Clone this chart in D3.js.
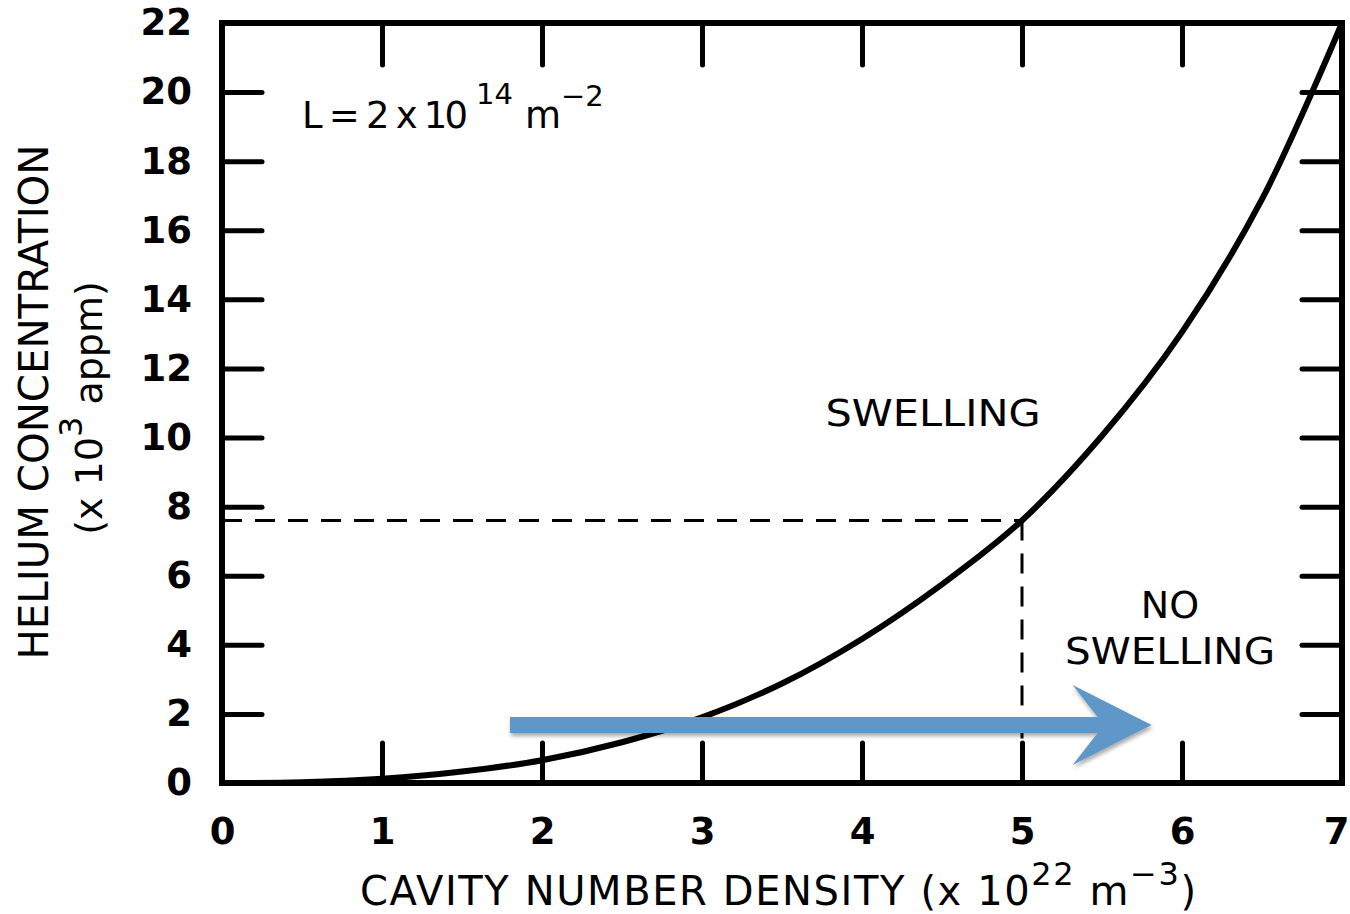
<!DOCTYPE html>
<html>
<head>
<meta charset="utf-8">
<script src="https://cdn.jsdelivr.net/npm/d3@7"></script>
<style>
  html, body { margin: 0; padding: 0; background: #fff; }
  svg { display: block; }
  text { font-family: "DejaVu Sans", "Liberation Sans", sans-serif; fill: #000; }
</style>
</head>
<body>
<svg id="chart" width="1350" height="914"></svg>
<script>
// Cavity number density (x10^22 m^-3) vs helium concentration (x10^3 appm)
const densityValues = [0, 0.5, 1, 1.5, 2, 2.5, 3, 3.5, 4, 4.5, 5, 5.5, 6, 6.5, 7];
const heliumValues  = [0, 0.02, 0.12, 0.33, 0.66, 1.18, 1.9, 2.88, 4.17, 5.75, 7.6, 10.05, 13.05, 16.9, 22];

// Critical point marked by the dashed guides
const criticalDensity = 5;
const criticalHelium = 7.6;

// Arrow annotation (data units)
const arrowStart = 1.8;
const arrowEnd = 5.81;
const arrowLevel = 1.68;

const xTicks = [0, 1, 2, 3, 4, 5, 6, 7];
const yTicks = [0, 2, 4, 6, 8, 10, 12, 14, 16, 18, 20, 22];
const innerXTicks = [1, 2, 3, 4, 5, 6];
const innerYTicks = [2, 4, 6, 8, 10, 12, 14, 16, 18, 20];

const svg = d3.select("#chart");
const x = d3.scaleLinear().domain([0, 7]).range([222, 1342]);
const y = d3.scaleLinear().domain([0, 22]).range([783, 23]);

const defs = svg.append("defs");
const shadow = defs.append("filter").attr("id", "arrowShadow")
  .attr("x", "-5%").attr("y", "-30%").attr("width", "110%").attr("height", "180%");
shadow.append("feDropShadow").attr("dx", 1).attr("dy", 3).attr("stdDeviation", 2)
  .attr("flood-color", "#000").attr("flood-opacity", 0.35);

// Tick marks pointing inward on all four sides
function styleAxis(g) {
  g.select(".domain").remove();
  g.selectAll(".tick line").attr("stroke", "#000").attr("stroke-width", 5).attr("stroke-linecap", "round");
  g.selectAll(".tick text").attr("font-size", 37).attr("font-weight", "bold").attr("fill", "#000");
}

svg.append("g").attr("transform", `translate(${x(0)},0)`)
  .call(d3.axisLeft(y).tickValues(yTicks).tickSizeInner(-40).tickSizeOuter(0).tickPadding(30).tickFormat(d3.format("d")))
  .call(styleAxis);

svg.append("g").attr("transform", `translate(${x(7)},0)`)
  .call(d3.axisRight(y).tickValues(innerYTicks).tickSizeInner(-40).tickSizeOuter(0).tickFormat(""))
  .call(styleAxis);

svg.append("g").attr("transform", `translate(0,${y(0)})`)
  .call(d3.axisBottom(x).tickValues(xTicks).tickSizeInner(-40).tickSizeOuter(0).tickPadding(35).tickFormat(d3.format("d")))
  .call(styleAxis)
  .call(g => g.selectAll(".tick line").filter(d => d === 0 || d === 7).remove())
  .call(g => g.selectAll(".tick text").filter(d => d === 7).attr("dx", -6));

svg.append("g").attr("transform", `translate(0,${y(22)})`)
  .call(d3.axisTop(x).tickValues(innerXTicks).tickSizeInner(-42).tickSizeOuter(0).tickFormat(""))
  .call(styleAxis);

// Plot frame
svg.append("rect")
  .attr("x", x(0)).attr("y", y(22))
  .attr("width", x(7) - x(0)).attr("height", y(0) - y(22))
  .attr("fill", "none").attr("stroke", "#000").attr("stroke-width", 6);

// Dashed guides to the critical point
const dash = svg.append("g").attr("stroke", "#000").attr("stroke-width", 3).attr("stroke-dasharray", "20 13").attr("fill", "none");
dash.append("line").attr("x1", x(0)).attr("x2", x(criticalDensity)).attr("y1", y(criticalHelium)).attr("y2", y(criticalHelium));
dash.append("line").attr("x1", x(criticalDensity)).attr("x2", x(criticalDensity)).attr("y1", y(criticalHelium)).attr("y2", y(0));

// Boundary curve
const points = densityValues.map((d, i) => [d, heliumValues[i]]);
svg.append("path")
  .datum(points)
  .attr("fill", "none").attr("stroke", "#000").attr("stroke-width", 6)
  .attr("d", d3.line().x(d => x(d[0])).y(d => y(d[1])).curve(d3.curveCatmullRom.alpha(0.5)));

// Blue arrow
const ay = y(arrowLevel);
const half = 8;
const headBack = x(arrowEnd) - 79;
const notch = x(arrowEnd) - 54;
const arrowPts = [
  [x(arrowStart), ay - half], [notch, ay - half], [headBack, ay - 40],
  [x(arrowEnd), ay], [headBack, ay + 40], [notch, ay + half], [x(arrowStart), ay + half]
];
svg.append("path")
  .attr("d", "M" + arrowPts.map(p => p.join(",")).join("L") + "Z")
  .attr("fill", "#6197c9")
  .attr("filter", "url(#arrowShadow)");

// Region labels
svg.append("text").attr("x", 933).attr("y", 426).attr("text-anchor", "middle")
  .attr("font-size", 38).attr("textLength", 215).attr("lengthAdjust", "spacingAndGlyphs")
  .text("SWELLING");
svg.append("text").attr("x", 1170).attr("y", 618).attr("text-anchor", "middle")
  .attr("font-size", 38).text("NO");
svg.append("text").attr("x", 1170).attr("y", 664).attr("text-anchor", "middle")
  .attr("font-size", 38).attr("textLength", 210).attr("lengthAdjust", "spacingAndGlyphs")
  .text("SWELLING");

// Parameter annotation
const annG = svg.append("g").attr("font-size", 37);
annG.append("text").attr("x", 302).attr("y", 128)
  .attr("textLength", 166).attr("lengthAdjust", "spacing").text("L = 2 x 10");
annG.append("text").attr("x", 476).attr("y", 104).attr("font-size", 29).text("14");
annG.append("text").attr("x", 525).attr("y", 128).text("m");
annG.append("text").attr("x", 561).attr("y", 106).attr("font-size", 29).text("−2");

// X axis title
const xt = svg.append("text").attr("x", 360).attr("y", 905).attr("font-size", 40).attr("letter-spacing", 1.6);
xt.append("tspan").text("CAVITY NUMBER DENSITY (x 10");
xt.append("tspan").attr("dy", -20).attr("font-size", 32).text("22");
xt.append("tspan").attr("dy", 20).text(" m");
xt.append("tspan").attr("dy", -20).attr("font-size", 32).text("−3");
xt.append("tspan").attr("dy", 20).text(")");

// Y axis title
svg.append("text").attr("transform", "translate(48,402) rotate(-90)")
  .attr("text-anchor", "middle").attr("font-size", 40)
  .attr("textLength", 515).attr("lengthAdjust", "spacingAndGlyphs")
  .text("HELIUM CONCENTRATION");
const yt = svg.append("text").attr("transform", "translate(102,408) rotate(-90)")
  .attr("text-anchor", "middle").attr("font-size", 38);
yt.append("tspan").text("(x 10");
yt.append("tspan").attr("dy", -20).attr("font-size", 32).text("3");
yt.append("tspan").attr("dy", 20).text(" appm)");
</script>
</body>
</html>
